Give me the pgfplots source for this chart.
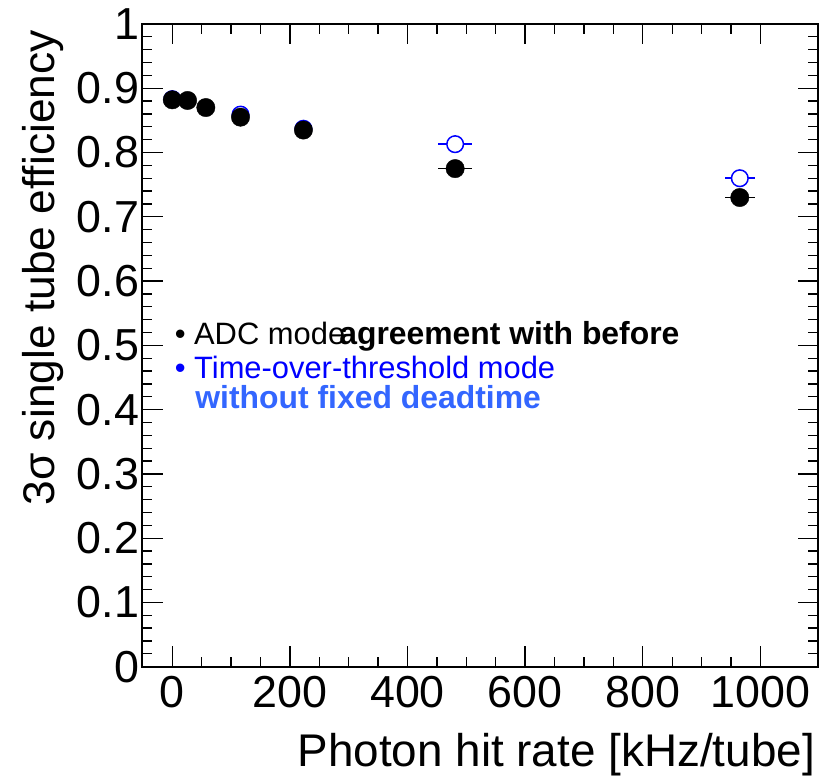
\documentclass[border=0pt]{standalone}
\usepackage{fontspec}
\setmainfont{Liberation Sans}
\usepackage{pgfplots}
\pgfplotsset{compat=1.18}
\definecolor{tblue}{RGB}{0,0,255}
\definecolor{lblue}{RGB}{51,102,255}
\begin{document}
\begin{tikzpicture}
\begin{axis}[
  name=ax, at={(0,0)}, anchor=south west,
  scale only axis, width=675.7bp, height=642.7bp,
  xmin=-51, xmax=1098, ymin=0, ymax=1,
  xtick={0,200,400,600,800,1000},
  xticklabels={0,200,400,600,800,1000},
  ytick={0,0.1,0.2,0.3,0.4,0.5,0.6,0.7,0.8,0.9,1},
  yticklabels={0,0.1,0.2,0.3,0.4,0.5,0.6,0.7,0.8,0.9,1},
  minor x tick num=3, minor y tick num=4,
  tick align=inside, tick pos=both,
  major tick length=20.5bp, minor tick length=10bp,
  every tick/.style={black, line width=1.3bp},
  axis line style={line width=1.6bp},
  ticklabel style={font=\fontsize{45}{45}\selectfont, inner sep=0pt},
  /pgf/number format/assume math mode=true,
  yticklabel style={anchor=east, xshift=-3bp},
  xticklabel style={anchor=north, yshift=-9bp},
  clip=false,
]
\addplot[only marks, mark=*, mark size=8.3bp,
  mark options={draw=tblue, fill=white, line width=1.5bp},
  error bars/.cd, x dir=both, x explicit, error mark=none,
  error bar style={tblue, line width=1.5bp}]
  table[x=x, y=y, x error=ex] {
  x    y     ex
  0    0.883 0
  116  0.859 0
  223  0.837 0
  481  0.813 29
  965  0.760 26
};
\addplot[only marks, mark=*, mark size=9.2bp,
  mark options={draw=black, fill=black},
  error bars/.cd, x dir=both, x explicit, error mark=none,
  error bar style={black, line width=1.5bp}]
  table[x=x, y=y, x error=ex] {
  x    y     ex
  0    0.882 0
  26   0.881 0
  57   0.870 0
  116  0.855 0
  223  0.835 0
  481  0.775 29
  965  0.730 26
};
\node[anchor=base west, inner sep=0pt, font=\fontsize{31}{31}\selectfont] at (axis cs:3.9,0.502) {• ADC mode};
\node[anchor=base west, inner sep=0pt, font=\fontsize{32}{32}\selectfont\bfseries] at (axis cs:283.7,0.502) {agreement with before};
\node[anchor=base west, inner sep=0pt, font=\fontsize{31}{31}\selectfont, text=tblue] at (axis cs:3.9,0.449) {• Time-over-threshold mode};
\node[anchor=base west, inner sep=0pt, font=\fontsize{32}{32}\selectfont\bfseries, text=lblue] at (axis cs:39,0.402) {without fixed deadtime};
\end{axis}
\node[rotate=90, anchor=base east, inner sep=0pt, font=\fontsize{44.5}{44.5}\selectfont] at ([shift={(-87.3bp,-6bp)}]ax.north west) {3σ single tube efficiency};
\node[anchor=base east, inner sep=0pt, font=\fontsize{46}{46}\selectfont] at ([shift={(-3bp,-100bp)}]ax.south east) {Photon hit rate [kHz/tube]};
\pgfresetboundingbox
\path ([shift={(-142.3bp,-115.3bp)}]ax.south west) rectangle ++(837bp,782bp);
\end{tikzpicture}
\end{document}
